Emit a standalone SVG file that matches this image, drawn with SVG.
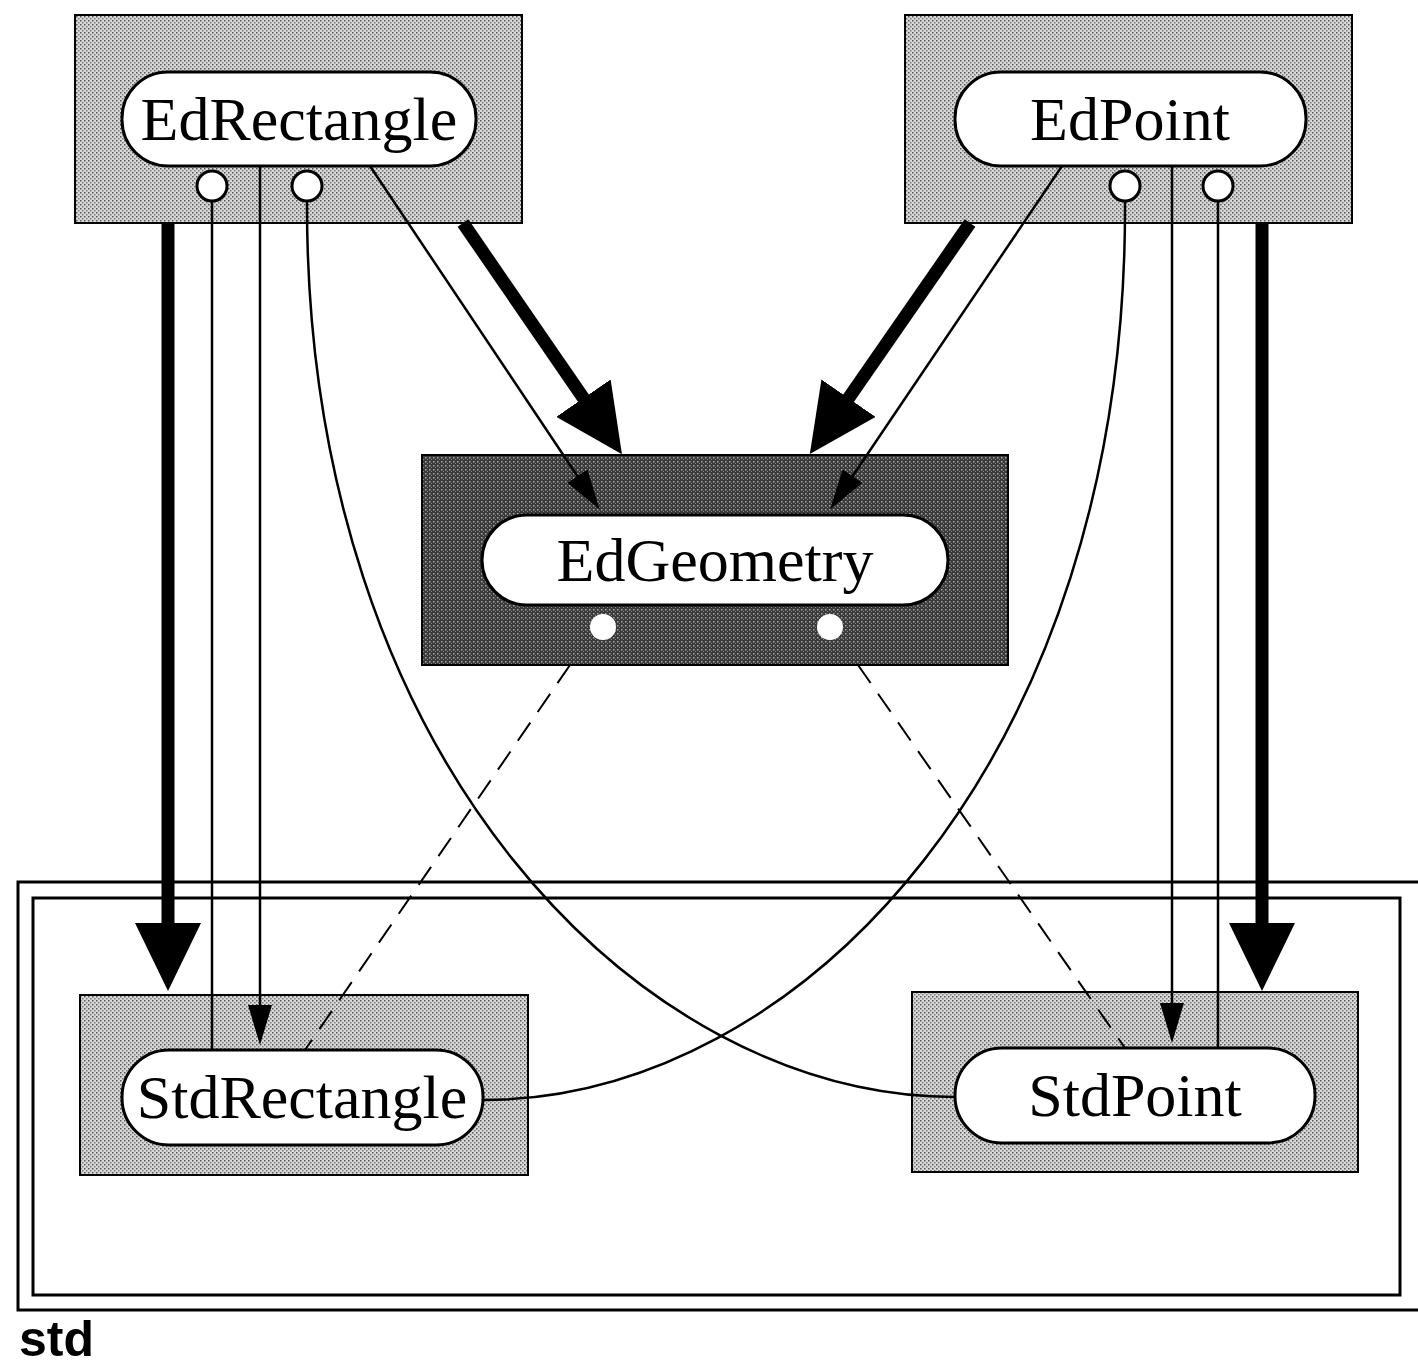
<svg xmlns="http://www.w3.org/2000/svg" width="1418" height="1370" viewBox="0 0 1418 1370">
<defs>
<pattern id="lightDots" width="4" height="4" patternUnits="userSpaceOnUse">
<rect width="4" height="4" fill="#d8d8d8"/>
<rect x="0" y="0" width="1.5" height="1.5" fill="#555"/>
<rect x="2" y="2" width="1.5" height="1.5" fill="#7a7a7a"/>
</pattern>
<pattern id="darkDots" width="4" height="4" patternUnits="userSpaceOnUse">
<rect width="4" height="4" fill="#3a3a3a"/>
<rect x="1" y="1" width="1.5" height="1.5" fill="#a8a8a8"/>
<rect x="3" y="3" width="1" height="1" fill="#888"/>
</pattern>
<marker id="bigHead" viewBox="0 0 68 66" refX="1" refY="33" markerWidth="68" markerHeight="66" markerUnits="userSpaceOnUse" orient="auto">
<path d="M0,0 L68,33 L0,66 Z" fill="#000"/>
</marker>
<marker id="smallHead" viewBox="0 0 40 24" refX="1" refY="12" markerWidth="40" markerHeight="24" markerUnits="userSpaceOnUse" orient="auto">
<path d="M0,0 L40,12 L0,24 Z" fill="#000"/>
</marker>
</defs>
<style>
.light{fill:url(#lightDots);stroke:#000;stroke-width:2}
.dark{fill:url(#darkDots);stroke:#000;stroke-width:2}
.pill{fill:#fff;stroke:#000;stroke-width:3}
.label{font-family:"Liberation Serif","DejaVu Serif",serif;font-size:62px;fill:#000;text-anchor:middle}
.port{fill:#fff;stroke:#000;stroke-width:3}
.dport{fill:#fff;stroke:none}
.thick{stroke:#000;stroke-width:13;fill:none}
.thin{stroke:#000;stroke-width:2.5;fill:none}
.dash{stroke:#000;stroke-width:2;fill:none;stroke-dasharray:22 13}
.pkg{fill:none;stroke:#000;stroke-width:3}
</style>
<rect width="1418" height="1370" fill="#fff"/>

<g id="std-package">
<rect class="pkg" x="18" y="882" width="1410" height="428"/>
<rect class="pkg" x="33" y="898" width="1367" height="397"/>
<text x="19" y="1356" font-family="Liberation Sans, Arial, sans-serif" font-weight="bold" font-size="50">std</text>
</g>

<g id="EdRectangle">
<rect class="light" x="75" y="15" width="447" height="208"/>
<rect class="pill" x="122" y="72" width="354" height="94" rx="46"/>
<text class="label" x="299" y="140">EdRectangle</text>
<circle class="port" cx="212" cy="186" r="15"/>
<circle class="port" cx="307" cy="186" r="15"/>
</g>

<g id="EdPoint">
<rect class="light" x="905" y="15" width="447" height="208"/>
<rect class="pill" x="955" y="72" width="351" height="94" rx="46"/>
<text class="label" x="1130" y="140">EdPoint</text>
<circle class="port" cx="1125" cy="186" r="15"/>
<circle class="port" cx="1218" cy="186" r="15"/>
</g>

<g id="EdGeometry">
<rect class="dark" x="422" y="455" width="586" height="210"/>
<rect class="pill" x="482" y="515" width="466" height="90" rx="45"/>
<text class="label" x="715" y="581">EdGeometry</text>
<circle class="dport" cx="603" cy="627" r="13"/>
<circle class="dport" cx="830" cy="627" r="13"/>
</g>

<g id="StdRectangle">
<rect class="light" x="80" y="995" width="448" height="180"/>
<rect class="pill" x="122" y="1050" width="361" height="95" rx="47"/>
<text class="label" x="302" y="1118">StdRectangle</text>
</g>

<g id="StdPoint">
<rect class="light" x="912" y="992" width="446" height="180"/>
<rect class="pill" x="955" y="1048" width="360" height="95" rx="47"/>
<text class="label" x="1135" y="1116">StdPoint</text>
</g>

<g id="connectors">
<line class="thick" x1="168" y1="223" x2="168" y2="924" marker-end="url(#bigHead)"/>
<line class="thin" x1="212" y1="201" x2="212" y2="1050"/>
<line class="thin" x1="260" y1="166" x2="260" y2="1006" marker-end="url(#smallHead)"/>
<path class="thin" d="M307,201 C305,760 640,1097 955,1097"/>
<line class="thin" x1="370" y1="166" x2="578" y2="477" marker-end="url(#smallHead)"/>
<line class="thick" x1="463" y1="223" x2="584" y2="399" marker-end="url(#bigHead)"/>

<line class="thick" x1="970" y1="223" x2="848" y2="399" marker-end="url(#bigHead)"/>
<line class="thin" x1="1062" y1="166" x2="852" y2="477" marker-end="url(#smallHead)"/>
<path class="thin" d="M1125,201 C1128,760 800,1100 483,1100"/>
<line class="thin" x1="1172" y1="166" x2="1172" y2="1004" marker-end="url(#smallHead)"/>
<line class="thin" x1="1218" y1="201" x2="1218" y2="1048"/>
<line class="thick" x1="1262" y1="223" x2="1262" y2="924" marker-end="url(#bigHead)"/>

<line class="dash" x1="570" y1="665" x2="305" y2="1050"/>
<line class="dash" x1="858" y1="665" x2="1125" y2="1048"/>
</g>
</svg>
